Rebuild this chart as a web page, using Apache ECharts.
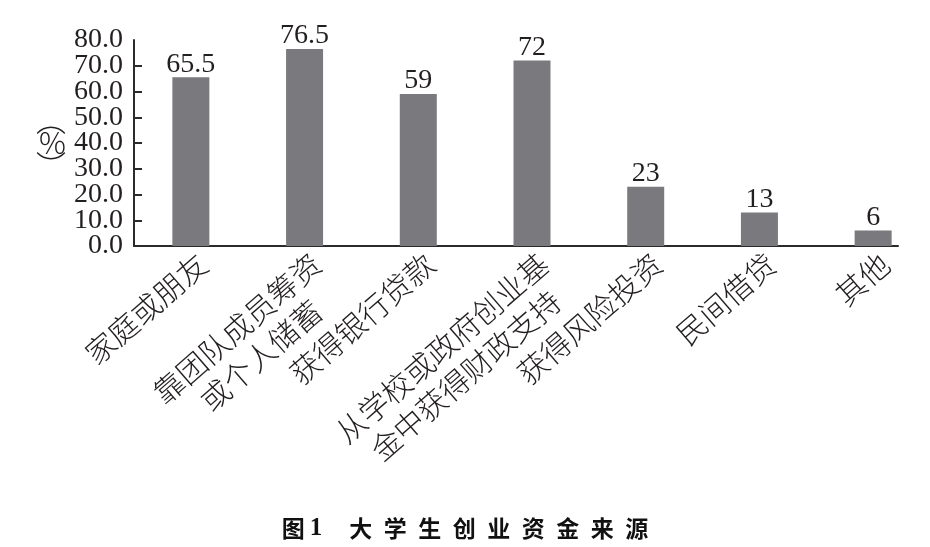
<!DOCTYPE html>
<html>
<head>
<meta charset="utf-8">
<title>大学生创业资金来源</title>
<script src="https://cdn.jsdelivr.net/npm/echarts@6/dist/echarts.min.js"></script>
<style>
  html, body { margin: 0; padding: 0; background: #fff; }
  #chart { width: 930px; height: 547px; }
</style>
</head>
<body>
<div id="chart"></div>
<script>
// 资金来源类别（\n 为换行）
const categories = [
  '家庭或朋友',
  '靠团队成员筹资\n或个人储蓄',
  '获得银行贷款',
  '从学校或政府创业基\n金中获得财政支持',
  '获得风险投资',
  '民间借贷',
  '其他',
];
// 各类别占比（%）
const values = [65.5, 76.5, 59, 72, 23, 13, 6];
// 纵轴范围
const yMin = 0;
const yMax = 80;
const yStep = 10;

const serif = '"Liberation Serif", "DejaVu Serif", serif';
const cjk = '"Noto Sans CJK SC", sans-serif';
const textColor = '#231f20';
const axisColor = '#2b2b2b';

const yLabelStyle = {
  hideOverlap: false,
  margin: 11,
  fontFamily: serif,
  fontSize: 28,
  lineHeight: 22,
  color: textColor,
  formatter: (v) => v.toFixed(1),
};

const chart = echarts.init(document.getElementById('chart'));

const option = {
  animation: false,
  title: {
    text: '{a|图} {n|1}\u3000\u2002{a|大\u2002学\u2002生\u2002创\u2002业\u2002资\u2002金\u2002来\u2002源}',
    left: 'center',
    top: 511,
    textStyle: {
      rich: {
        a: { fontFamily: cjk, fontSize: 23, fontWeight: 'bold', color: '#111' },
        n: { fontFamily: serif, fontSize: 25, fontWeight: 'bold', color: '#111' },
      },
    },
  },
  grid: [
    // 柱子和类别标签
    { left: 134, top: 40, bottom: 301, width: 796, outerBoundsMode: 'none' },
    // 横轴线 + 纵轴首尾刻度值
    { left: 134, right: 32, top: 40, bottom: 301, outerBoundsMode: 'none' },
  ],
  xAxis: [
    {
      type: 'category',
      gridIndex: 0,
      data: categories,
      axisLine: { show: false },
      axisTick: { show: false },
      axisLabel: {
        interval: 0,
        rotate: 41,
        margin: 0,
        align: 'right',
        verticalAlign: 'top',
        formatter: (v) => v.split('\n').map(s => `{c|${s}}`).join('\n'),
        rich: {
          c: {
            align: 'center',
            fontFamily: cjk,
            fontWeight: 300,
            fontSize: 30,
            lineHeight: 36,
            color: textColor,
          },
        },
      },
    },
    {
      type: 'value',
      gridIndex: 1,
      min: 0,
      max: 1,
      axisLine: { show: true, lineStyle: { color: axisColor, width: 2 } },
      axisTick: { show: false },
      axisLabel: { show: false },
      splitLine: { show: false },
    },
  ],
  yAxis: [
    {
      type: 'value',
      gridIndex: 0,
      min: yMin,
      max: yMax,
      interval: yStep,
      name: '︵\n%\n︶',
      nameLocation: 'middle',
      nameGap: 68,
      nameRotate: 0,
      nameTextStyle: {
        fontFamily: cjk,
        fontWeight: 300,
        fontSize: 30,
        lineHeight: 23,
        color: textColor,
      },
      axisLine: { show: true, lineStyle: { color: axisColor, width: 2 } },
      axisTick: { show: true, inside: true, length: 8, lineStyle: { color: axisColor, width: 2 } },
      // 中间刻度值（首尾由另一根轴画，避免被自动隐藏）
      axisLabel: Object.assign({ showMinLabel: false, showMaxLabel: false }, yLabelStyle),
      splitLine: { show: false },
    },
    {
      type: 'value',
      gridIndex: 1,
      min: yMin,
      max: yMax,
      interval: yMax - yMin,
      axisLine: { show: false },
      axisTick: { show: false },
      axisLabel: Object.assign({ showMinLabel: true, showMaxLabel: true }, yLabelStyle),
      splitLine: { show: false },
    },
  ],
  series: [
    {
      type: 'bar',
      xAxisIndex: 0,
      yAxisIndex: 0,
      data: values,
      barWidth: 37,
      itemStyle: { color: '#7a7a7e' },
      label: {
        show: true,
        position: 'top',
        distance: -1,
        fontFamily: serif,
        fontSize: 28,
        color: textColor,
        formatter: '{c}',
      },
    },
  ],
};

chart.setOption(option);
</script>
</body>
</html>
